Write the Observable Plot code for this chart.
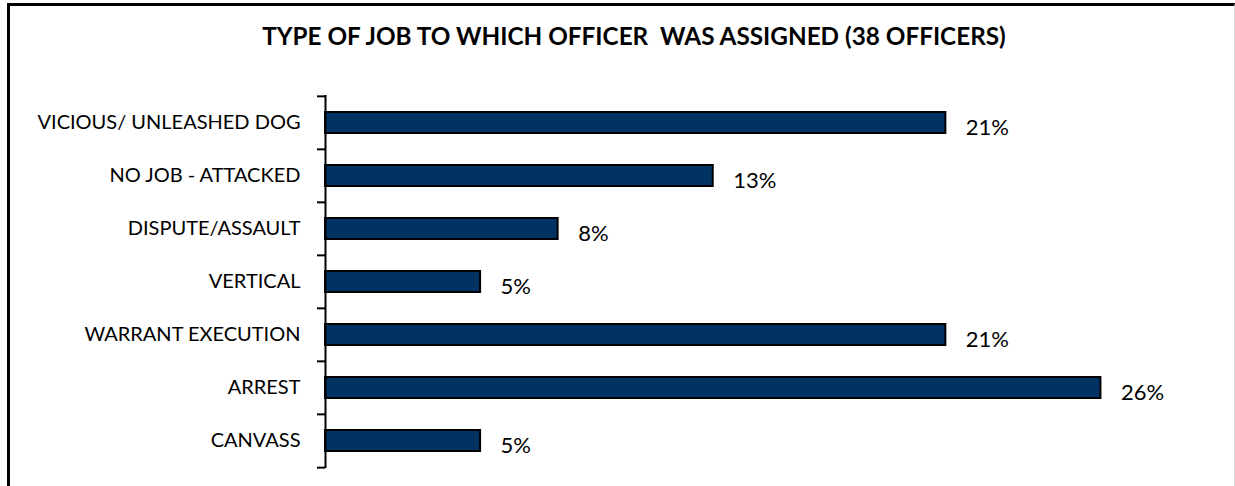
<!DOCTYPE html>
<html><head><meta charset="utf-8">
<script src="https://cdn.jsdelivr.net/npm/d3@7"></script>
<script src="https://cdn.jsdelivr.net/npm/@observablehq/plot@0.6"></script>
<style>
body{margin:0;background:#fff;}
#wrap{position:relative;width:1235px;height:486px;overflow:hidden;font-family:Lato,sans-serif;}
#frame{position:absolute;left:7px;top:3px;width:1224px;height:600px;border-top:3px solid #000;border-left:3px solid #000;border-right:1px solid #d9d9d9;}
#title{position:absolute;top:21px;left:0;width:1268px;text-align:center;font-weight:bold;font-size:24.3px;color:#000;white-space:pre;}
#chart{position:absolute;left:0;top:0;}
</style></head>
<body><div id="wrap"><div id="frame"></div><div id="title">TYPE OF JOB TO WHICH OFFICER  WAS ASSIGNED (38 OFFICERS)</div><div id="chart"></div></div>
<script>
const categories = ["VICIOUS/ UNLEASHED DOG", "NO JOB - ATTACKED", "DISPUTE/ASSAULT", "VERTICAL", "WARRANT EXECUTION", "ARREST", "CANVASS"];
const counts = [8, 5, 3, 2, 8, 10, 2];
const totalOfficers = 38;
const percents = counts.map(c => c / totalOfficers * 100);
const data = categories.map((c, i) => ({category: c, pct: percents[i]}));
const band = (468 - 95) / categories.length;
const plot = Plot.plot({
  width: 1235, height: 486,
  marginLeft: 325, marginRight: 26, marginTop: 95, marginBottom: 18,
  x: {domain: [0, 30], axis: null},
  y: {domain: categories, padding: 0, label: null},
  style: {fontFamily: "Lato, sans-serif", background: "transparent", color: "#000"},
  marks: [
    Plot.barX(data, {x: "pct", y: "category", fill: "#003264", stroke: "#000", strokeWidth: 2, insetTop: 16, insetBottom: 16}),
    Plot.ruleX([0], {stroke: "#000", strokeWidth: 2}),
    Plot.axisY({tickSize: 8, tickFormat: () => "", dy: -band / 2, strokeWidth: 2, label: null}),
    Plot.axisY({ticks: [categories[categories.length - 1]], tickSize: 8, tickFormat: () => "", dy: band / 2, strokeWidth: 2, label: null}),
    Plot.axisY({tickSize: 0, tickPadding: 25, fontSize: 20, fill: "#000", label: null}),
    Plot.text(data, {x: "pct", y: "category", text: d => Math.round(d.pct) + "%", dx: 20, dy: 5, textAnchor: "start", fontSize: 22, fill: "#000"})
  ]
});
document.getElementById("chart").appendChild(plot);
</script>
</body></html>
